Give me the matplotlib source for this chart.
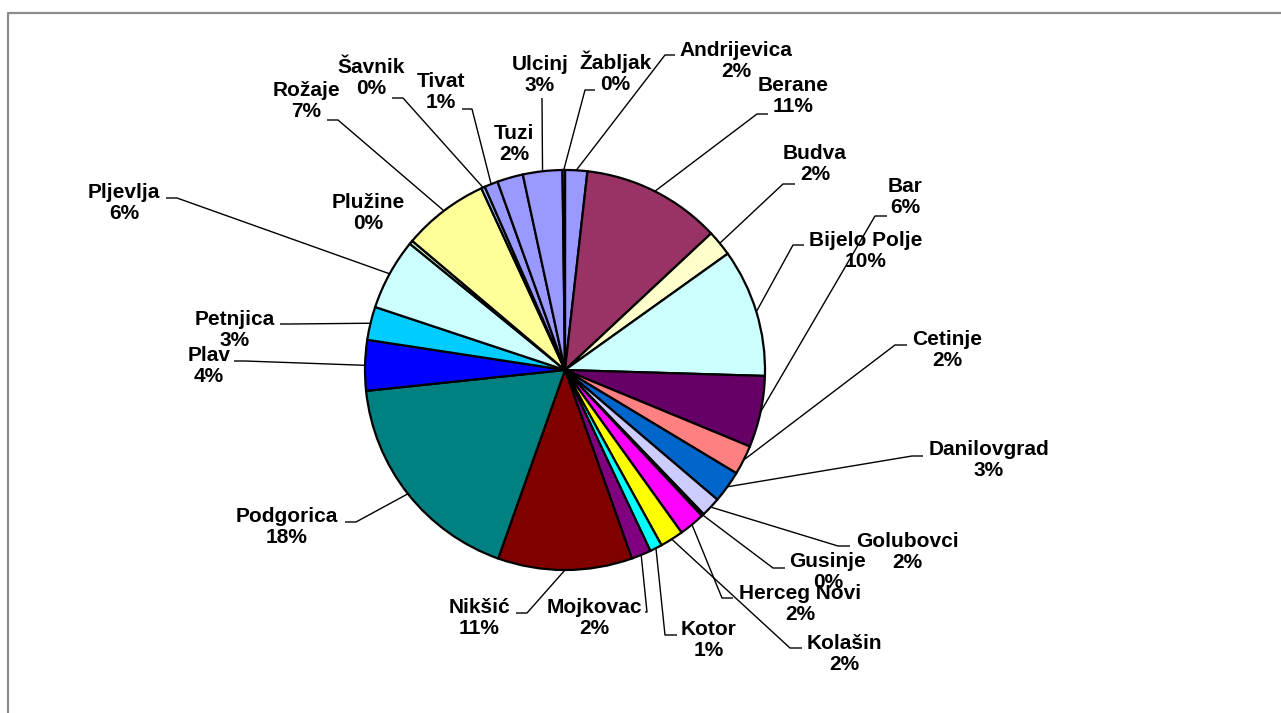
import matplotlib
matplotlib.use("Agg")
import matplotlib.pyplot as plt
import numpy as np

# ---------------- data ----------------
municipalities = ["Andrijevica", "Berane", "Budva", "Bijelo Polje", "Bar", "Cetinje",
                  "Danilovgrad", "Golubovci", "Gusinje", "Herceg Novi", "Kolašin", "Kotor",
                  "Mojkovac", "Nikšić", "Podgorica", "Plav", "Petnjica", "Pljevlja",
                  "Plužine", "Rožaje", "Šavnik", "Tivat", "Tuzi", "Ulcinj", "Žabljak"]
shares = [1.8, 11.3, 2.1, 10.4, 5.8, 2.4,
          2.6, 1.6, 0.2, 2.1, 1.9, 1.0,
          1.6, 10.9, 18.0, 4.1, 2.7, 5.8,
          0.3, 7.0, 0.3, 1.1, 2.1, 3.2, 0.2]
slice_colors = ["#9999FF", "#993366", "#FFFFCC", "#CCFFFF", "#660066", "#FF8080",
                "#0066CC", "#CCCCFF", "#000080", "#FF00FF", "#FFFF00", "#00FFFF",
                "#800080", "#800000", "#008080", "#0000FF", "#00CCFF", "#CCFFFF",
                "#CCFFCC", "#FFFF99", "#99CCFF", "#9999FF", "#9999FF", "#9999FF", "#9999FF"]

# ---------------- layout (pixel positions, y measured from top) ----------------
W, H = 1281, 713
CX, CY, R = 565, 370, 200
# label block centre
label_pos = [(736, 61), (793, 96), (815, 164), (866, 251), (905, 197), (947, 350),
             (989, 460), (907, 552), (828, 572), (800, 604), (844, 654), (709, 640),
             (594, 618), (479, 618), (287, 527), (209, 366), (235, 330), (124, 203),
             (368, 213), (306, 101), (371, 78), (441, 92), (514, 144), (540, 75), (615, 72)]
# leader horizontal segment: (x at pie side, x at text side, y) or None
leader_seg = [(665, 675, 55), (757, 768, 114), (783, 795, 184), (793, 804, 245),
              (875, 887, 216), (895, 907, 345), (912, 923, 456), (838, 850, 546),
              (773, 785, 568), (722, 733, 598), (790, 802, 648), (665, 677, 635),
              (647, 645, 612), (527, 516, 613), (356, 345, 522), (245, 234, 361),
              (290, 280, 324), (177, 166, 198), None, (338, 327, 120), (403, 392, 98),
              (472, 462, 109), None, (542, 542, 98), (585, 595, 90)]


def P(x, y):
    return x, H - y


fig = plt.figure(figsize=(W / 100, H / 100), dpi=100)
ax = fig.add_axes([0, 0, 1, 1])

wedges, _ = ax.pie(shares, colors=slice_colors, startangle=90, counterclock=False,
                   center=P(CX, CY), radius=R,
                   wedgeprops=dict(edgecolor="black", linewidth=1.6))

ax.set_xlim(0, W)
ax.set_ylim(0, H)
ax.set_aspect("equal")
ax.axis("off")

total = sum(shares)
font = dict(family=["Liberation Sans", "DejaVu Sans"], fontweight="bold", fontsize=15)

for name, v, w, pos, seg in zip(municipalities, shares, wedges, label_pos, leader_seg):
    pct = v / total * 100
    ax.text(*P(*pos), f"{name}\n{pct:.0f}%", ha="center", va="center",
            linespacing=1.1, color="black", zorder=5, **font)
    if seg is not None:
        mid = np.deg2rad((w.theta1 + w.theta2) / 2)
        ex = CX + R * np.cos(mid)
        ey = CY - R * np.sin(mid)
        xa, xb, y = seg
        xs = [ex, xa, xb]
        ys = [ey, y, y]
        ax.plot([P(a, b)[0] for a, b in zip(xs, ys)],
                [P(a, b)[1] for a, b in zip(xs, ys)],
                color="black", linewidth=1.0, zorder=4, solid_capstyle="butt")

# outer frame (gray border, top and left visible)
ax.plot([8, 8, W + 5], [-5, H - 13, H - 13], color="#8c8c8c", linewidth=1.6,
        zorder=1, clip_on=False)

fig.savefig("out.png", dpi=100)
